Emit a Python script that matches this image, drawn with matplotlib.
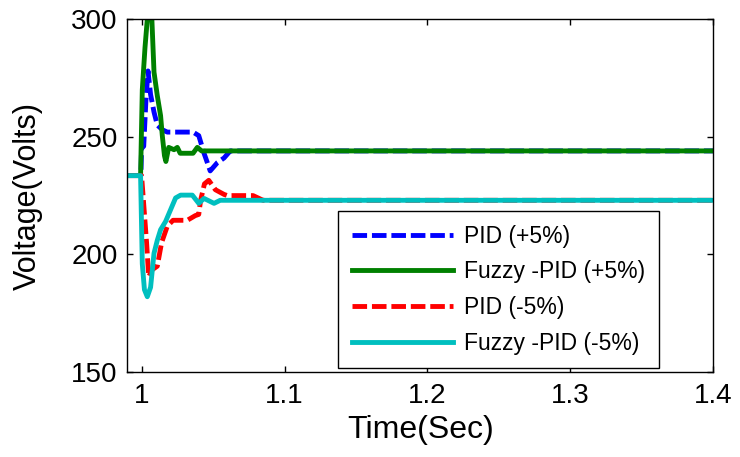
import numpy as np
import matplotlib
matplotlib.use('Agg')
from matplotlib import pyplot as plt

plt.rcParams['font.family'] = ['Liberation Sans', 'DejaVu Sans']

# PID (+5%)
t_pid_up = [0.99, 0.9995, 1.0, 1.0015, 1.003, 1.0045, 1.0063, 1.0087, 1.011, 1.0145,
            1.018, 1.036, 1.040, 1.0437, 1.046, 1.048, 1.053, 1.0577, 1.062, 1.4]
v_pid_up = [233.5, 233.5, 245, 246, 265, 278, 268, 260.5, 255, 253,
            252, 252, 250.5, 243, 239, 235.5, 239, 241, 244, 244]

# Fuzzy-PID (+5%)
t_fz_up = [0.99, 0.9993, 1.0005, 1.0024, 1.004, 1.0055, 1.0072, 1.0087, 1.011, 1.0133,
           1.0145, 1.016, 1.017, 1.019, 1.0227, 1.025, 1.027, 1.036, 1.039, 1.042, 1.4]
v_fz_up = [233.5, 233.5, 270, 288, 300, 305, 300, 277.5, 267.5, 259,
           250.5, 242, 239.5, 245.5, 244.5, 245.5, 243, 243, 245.5, 244, 244]

# PID (-5%)
t_pid_dn = [0.99, 1.0, 1.0035, 1.005, 1.0075, 1.011, 1.014, 1.018, 1.022, 1.032,
            1.0376, 1.040, 1.0413, 1.044, 1.047, 1.0516, 1.0577, 1.06, 1.078, 1.085, 1.4]
v_pid_dn = [233.5, 233.5, 205, 190.5, 193.5, 195, 205, 212, 214.5, 214.5,
            216.5, 217, 223, 230, 231.5, 227.5, 225.5, 225, 225, 223, 223]

# Fuzzy-PID (-5%)
t_fz_dn = [0.99, 0.9993, 1.0005, 1.002, 1.004, 1.0063, 1.0087, 1.011, 1.0133, 1.0168,
           1.0203, 1.0238, 1.0273, 1.0355, 1.040, 1.0437, 1.0507, 1.055, 1.4]
v_fz_dn = [233.5, 233.5, 196, 185, 182, 186, 200.5, 206, 210.5, 214,
           219, 224, 225.2, 225.2, 221.7, 223.8, 221.7, 223, 223]

labels = ['PID (+5%)', 'Fuzzy -PID (+5%)', 'PID (-5%)', 'Fuzzy -PID (-5%)']

fig = plt.figure(figsize=(7.4, 4.57), dpi=100)
ax = fig.add_axes([0.172, 0.186, 0.792, 0.772])

lw = 3.5
ax.plot(t_pid_up, v_pid_up, color='#0000ff', lw=lw, dashes=(3, 1), dash_capstyle='butt', label=labels[0])
ax.plot(t_fz_up, v_fz_up, color='#008000', lw=lw, label=labels[1])
ax.plot(t_pid_dn, v_pid_dn, color='#ff0000', lw=lw, dashes=(3, 1), dash_capstyle='butt', label=labels[2])
ax.plot(t_fz_dn, v_fz_dn, color='#00bfbf', lw=lw, label=labels[3])

ax.set_xlim(0.99, 1.4)
ax.set_ylim(150, 300)
ax.set_xticks([1.0, 1.1, 1.2, 1.3, 1.4])
ax.set_xticklabels(['1', '1.1', '1.2', '1.3', '1.4'])
ax.set_yticks([150, 200, 250, 300])
ax.tick_params(direction='in', top=True, right=True, length=4, width=1,
               labelsize=20)
ax.tick_params(axis='x', pad=8)
ax.tick_params(axis='y', pad=7)
for s in ax.spines.values():
    s.set_linewidth(1)

ax.set_xlabel('Time(Sec)', fontsize=23, labelpad=4)
ax.set_ylabel('Voltage(Volts)', fontsize=22, labelpad=20)

leg = ax.legend(loc='upper left', bbox_to_anchor=(0.36, 0.456), fontsize=16.5,
                handlelength=4.4, handletextpad=0.5, labelspacing=0.55,
                borderpad=0.6, borderaxespad=0, fancybox=False, framealpha=1,
                edgecolor='black')
leg.get_frame().set_linewidth(1)

fig.savefig('out.png', dpi=100)
